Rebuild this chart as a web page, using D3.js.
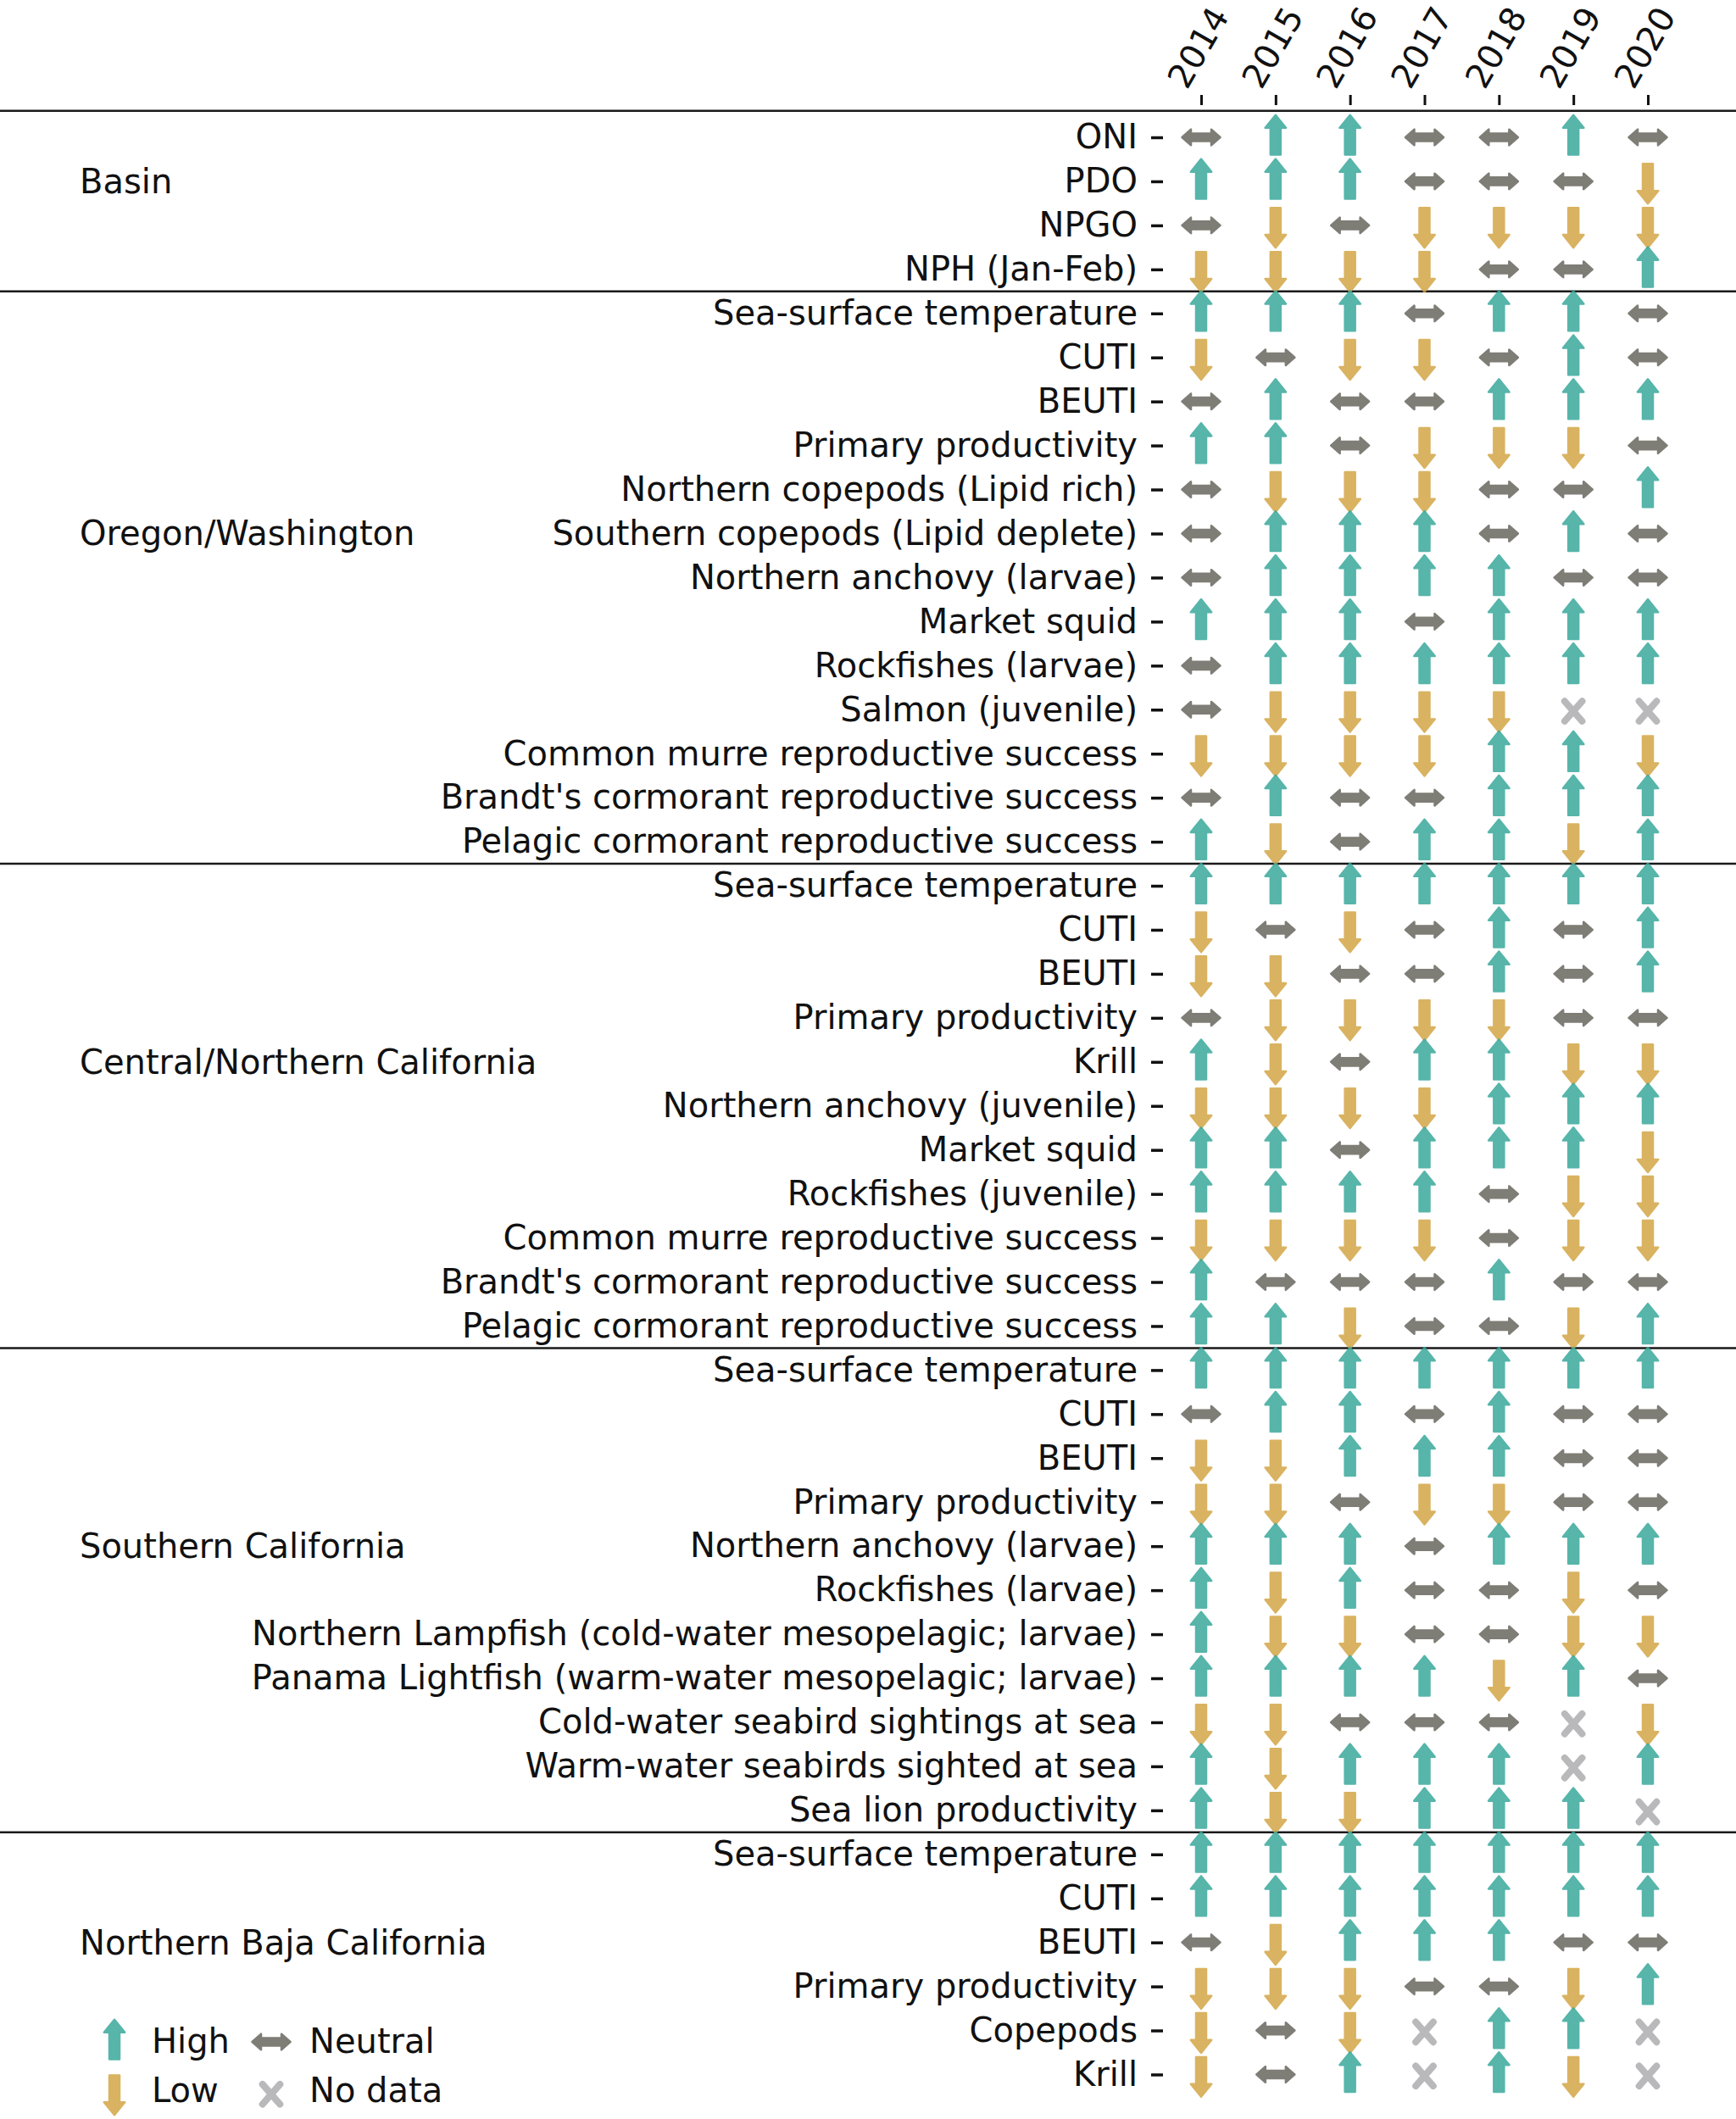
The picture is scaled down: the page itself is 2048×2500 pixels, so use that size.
<!DOCTYPE html>
<html>
<head>
<meta charset="utf-8">
<script src="https://cdn.jsdelivr.net/npm/d3@7"></script>
<style>
  body { margin: 0; background: #fff; }
</style>
</head>
<body>
<svg id="chart"></svg>
<script>
"use strict";

// H = high, L = low, N = neutral, X = no data; one letter per year
const years = [2014, 2015, 2016, 2017, 2018, 2019, 2020];

const groupNames = ["Basin", "Oregon/Washington", "Central/Northern California",
    "Southern California", "Northern Baja California"];

const basinLabels = ["ONI", "PDO", "NPGO", "NPH (Jan-Feb)"];
const basinStatus = ["NHHNNHN", "HHHNNNL", "NLNLLLL", "LLLLNNH"];

const oregonLabels = ["Sea-surface temperature", "CUTI", "BEUTI", "Primary productivity",
    "Northern copepods (Lipid rich)", "Southern copepods (Lipid deplete)",
    "Northern anchovy (larvae)", "Market squid", "Rockfishes (larvae)", "Salmon (juvenile)",
    "Common murre reproductive success", "Brandt's cormorant reproductive success",
    "Pelagic cormorant reproductive success"];
const oregonStatus = ["HHHNHHN", "LNLLNHN", "NHNNHHH", "HHNLLLN", "NLLLNNH", "NHHHNHN",
    "NHHHHNN", "HHHNHHH", "NHHHHHH", "NLLLLXX", "LLLLHHL", "NHNNHHH", "HLNHHLH"];

const centralLabels = ["Sea-surface temperature", "CUTI", "BEUTI", "Primary productivity",
    "Krill", "Northern anchovy (juvenile)", "Market squid", "Rockfishes (juvenile)",
    "Common murre reproductive success", "Brandt's cormorant reproductive success",
    "Pelagic cormorant reproductive success"];
const centralStatus = ["HHHHHHH", "LNLNHNH", "LLNNHNH", "NLLLLNN", "HLNHHLL", "LLLLHHH",
    "HHNHHHL", "HHHHNLL", "LLLLNLL", "HNNNHNN", "HHLNNLH"];

const southernLabels = ["Sea-surface temperature", "CUTI", "BEUTI", "Primary productivity",
    "Northern anchovy (larvae)", "Rockfishes (larvae)",
    "Northern Lampfish (cold-water mesopelagic; larvae)",
    "Panama Lightfish (warm-water mesopelagic; larvae)",
    "Cold-water seabird sightings at sea", "Warm-water seabirds sighted at sea",
    "Sea lion productivity"];
const southernStatus = ["HHHHHHH", "NHHNHNN", "LLHHHNN", "LLNLLNN", "HHHNHHH", "HLHNNLN",
    "HLLNNLL", "HHHHLHN", "LLNNNXL", "HLHHHXH", "HLLHHHX"];

const bajaLabels = ["Sea-surface temperature", "CUTI", "BEUTI", "Primary productivity",
    "Copepods", "Krill"];
const bajaStatus = ["HHHHHHH", "HHHHHHH", "NLHHHNN", "LLLNNLH", "LNLXHHX", "LNHXHLX"];

const legendCodes = ["H", "N", "L", "X"];
const legendLabels = ["High", "Neutral", "Low", "No data"];

(function () {
    const W = 2048, H = 2500;
    const FONT = "DejaVu Sans, sans-serif";
    const FS = 40;

    const colors = { H: "#3aa99c", L: "#d3a646", N: "#68675f", X: "#b9b9bc" };

    // flatten groups into rows
    const groupLabels = [basinLabels, oregonLabels, centralLabels, southernLabels, bajaLabels];
    const groupStatus = [basinStatus, oregonStatus, centralStatus, southernStatus, bajaStatus];
    const rows = [];
    const groupStarts = [];
    groupLabels.forEach((labels, g) => {
        groupStarts.push(rows.length);
        labels.forEach((label, k) => {
            rows.push({ group: g, label: label, status: groupStatus[g][k].split("") });
        });
    });

    const svg = d3.select("#chart").attr("width", W).attr("height", H)
        .style("background", "#fff");

    const x = d3.scalePoint().domain(years).range([1417, 1944]);
    const y = d3.scaleLinear().domain([0, rows.length - 1]).range([162, 2447.5]);
    const axisX = 1372;

    // separators across the full width
    const sepRows = [-0.6].concat(groupStarts.slice(1).map(s => s - 0.5));
    svg.append("g").selectAll("line")
        .data(sepRows)
        .join("line")
        .attr("x1", 0).attr("x2", W)
        .attr("y1", d => y(d)).attr("y2", d => y(d))
        .attr("stroke", "#1a1a1a")
        .attr("stroke-width", 2.5);

    // row labels
    svg.append("g")
        .attr("transform", `translate(${axisX},0)`)
        .call(d3.axisLeft(y)
            .tickValues(d3.range(rows.length))
            .tickFormat(i => rows[i].label)
            .tickSize(14)
            .tickPadding(16))
        .attr("font-family", FONT)
        .attr("font-size", FS)
        .call(g => g.select(".domain").remove())
        .call(g => g.selectAll(".tick line").attr("stroke", "#111").attr("stroke-width", 3.5))
        .call(g => g.selectAll(".tick text").attr("fill", "#111"));

    // years on top
    const topY = 124;
    svg.append("g")
        .attr("transform", `translate(0,${topY})`)
        .call(d3.axisTop(x).tickSize(12).tickPadding(0))
        .attr("font-family", FONT)
        .attr("font-size", FS)
        .call(g => g.select(".domain").remove())
        .call(g => g.selectAll(".tick line").attr("stroke", "#111").attr("stroke-width", 3))
        .call(g => g.selectAll(".tick text")
            .attr("y", null).attr("dy", null)
            .attr("fill", "#111")
            .attr("text-anchor", "middle")
            .attr("dominant-baseline", "central")
            .attr("transform", `translate(-4,${56 - topY}) rotate(-60)`));

    // group names, placed on row n/2 - 1 of each group
    svg.append("g").selectAll("text")
        .data(groupNames)
        .join("text")
        .attr("x", 94)
        .attr("y", (d, g) => y(groupStarts[g] + Math.floor(groupLabels[g].length / 2) - 1))
        .attr("dominant-baseline", "central")
        .attr("font-family", FONT)
        .attr("font-size", FS)
        .attr("fill", "#111")
        .text(d => d);

    // marker shapes, centred on the cell
    const shapes = {
        H: "M0,-26.3 L12.2,-11.2 L6,-11.2 L6,20.6 L-6,20.6 L-6,-11.2 L-12.2,-11.2 Z",
        L: "M0,26.3 L12.2,11.2 L6,11.2 L6,-20.6 L-6,-20.6 L-6,11.2 L-12.2,11.2 Z",
        N: "M-22.5,0 L-12,-9.3 L-12,-4.6 L12,-4.6 L12,-9.3 L22.5,0 L12,9.3 L12,4.6 L-12,4.6 L-12,9.3 Z",
        X: "M-10.3,-10 L10.3,13.6 M10.3,-10 L-10.3,13.6"
    };

    function drawMarker(sel) {
        sel.attr("d", d => shapes[d.code])
            .attr("fill", d => d.code === "X" ? "none" : colors[d.code])
            .attr("stroke", d => colors[d.code])
            .attr("stroke-width", d => d.code === "X" ? 8 : 2.5)
            .attr("stroke-linejoin", "round")
            .attr("stroke-linecap", "round")
            .attr("opacity", d => d.code === "X" ? 1 : 0.85);
    }

    const cells = rows.flatMap((r, i) => years.map((yr, j) => ({ row: i, year: yr, code: r.status[j] })));
    svg.append("g").selectAll("path")
        .data(cells)
        .join("path")
        .attr("transform", d => `translate(${x(d.year)},${y(d.row)})`)
        .call(drawMarker);

    // legend, 2 x 2
    const legCol = d3.scalePoint().domain([0, 1]).range([135, 320]);
    const legRow = d3.scalePoint().domain([0, 1]).range([2409, 2469]);
    const legend = svg.append("g").selectAll("g")
        .data(legendCodes.map((c, i) => ({ code: c, label: legendLabels[i], col: i % 2, row: Math.floor(i / 2) })))
        .join("g")
        .attr("transform", d => `translate(${legCol(d.col)},${legRow(d.row)})`);
    legend.append("path").call(drawMarker);
    legend.append("text")
        .attr("x", d => d.col === 0 ? 44 : 45)
        .attr("y", d => d.row === 0 ? -1 : -3)
        .attr("dominant-baseline", "central")
        .attr("font-family", FONT)
        .attr("font-size", FS)
        .attr("fill", "#111")
        .text(d => d.label);
})();
</script>
</body>
</html>
